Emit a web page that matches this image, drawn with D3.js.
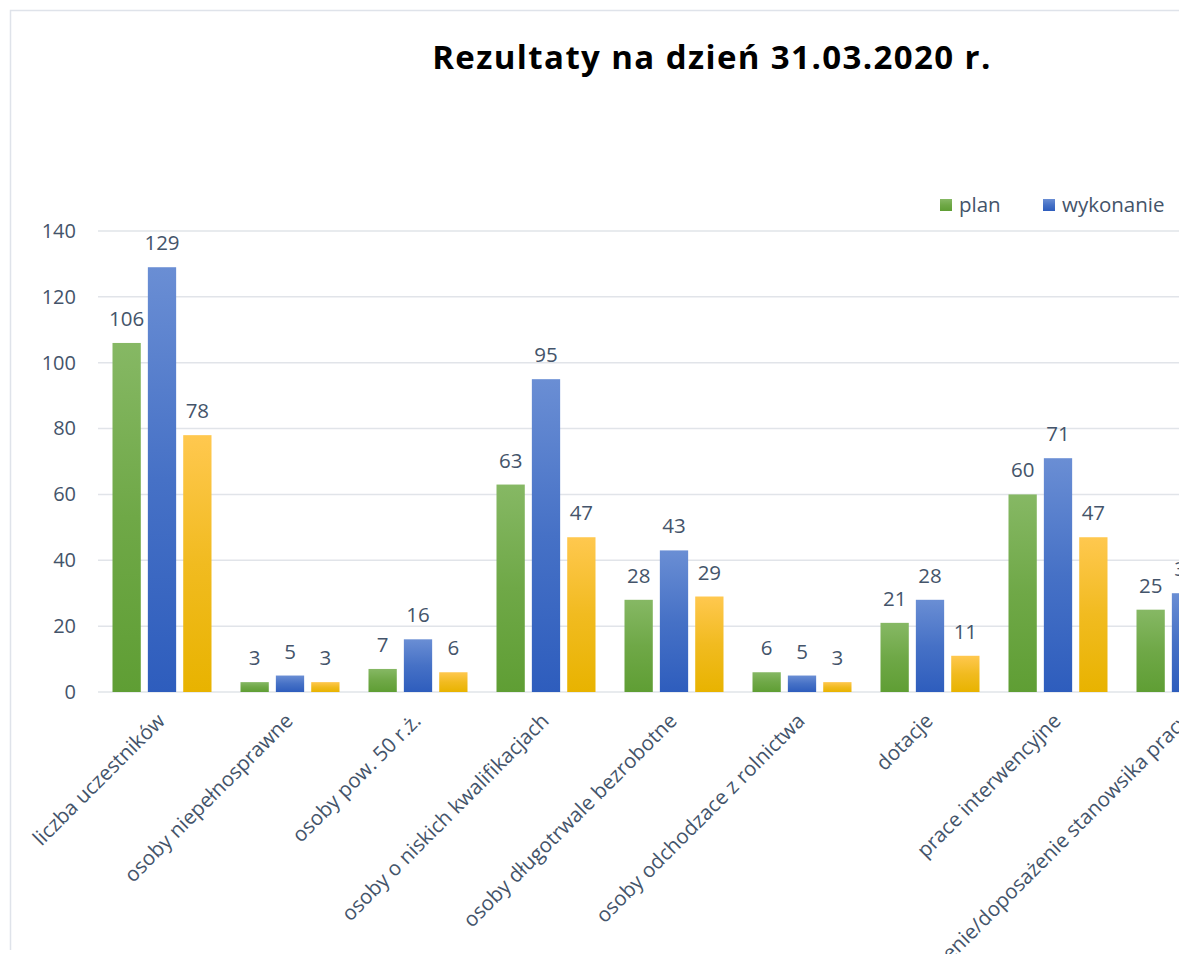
<!DOCTYPE html>
<html>
<head>
<meta charset="utf-8">
<script src="https://cdn.jsdelivr.net/npm/d3@7"></script>
<style>
  body { margin: 0; background: #fff; overflow: hidden; }
  text { font-family: 'Open Sans', sans-serif; }
</style>
</head>
<body>
<div id="chart"></div>
<script>
const categories = [
  'liczba uczestników',
  'osoby niepełnosprawne',
  'osoby pow. 50 r.ż.',
  'osoby o niskich kwalifikacjach',
  'osoby długotrwale bezrobotne',
  'osoby odchodzace z rolnictwa',
  'dotacje',
  'prace interwencyjne',
  'wyposażenie/doposażenie stanowsika pracy'
]
const seriesNames = ['plan', 'wykonanie', 'w tym kobiety']
const plan = [106, 3, 7, 63, 28, 6, 21, 60, 25]
const wykonanie = [129, 5, 16, 95, 43, 5, 28, 71, 30]
const kobiety = [78, 3, 6, 47, 29, 3, 11, 47, 18]
const yTicks = [0, 20, 40, 60, 80, 100, 120, 140]

const seriesValues = [plan, wykonanie, kobiety]
const data = categories.map((c, i) => ({
  category: c,
  values: seriesNames.map((s, j) => ({ key: s, value: seriesValues[j][i] }))
}))

const colors = {
  'plan': ['#86b864', '#5f9e34'],
  'wykonanie': ['#6a8ed4', '#2e5dbd'],
  'w tym kobiety': ['#ffc84f', '#e8b300']
}

const W = 1179
const H = 954
const plot = { left: 98, top: 231, bottom: 692 }

const svg = d3.select('#chart')
  .append('svg')
  .attr('width', W)
  .attr('height', H)

// gradients
const defs = svg.append('defs')
seriesNames.forEach((s, i) => {
  const grad = defs.append('linearGradient')
    .attr('id', 'grad' + i)
    .attr('x1', 0).attr('y1', 0).attr('x2', 0).attr('y2', 1)
  grad.append('stop').attr('offset', '0%').attr('stop-color', colors[s][0])
  grad.append('stop').attr('offset', '50%').attr('stop-color', d3.interpolateRgb(colors[s][0], colors[s][1])(0.6))
  grad.append('stop').attr('offset', '100%').attr('stop-color', colors[s][1])
})

// chart frame (runs past the right and bottom edge)
svg.append('path')
  .attr('d', `M10.5,950 V10.5 H${W}`)
  .attr('fill', 'none')
  .attr('stroke', '#dfe3ea')
  .attr('stroke-width', 1.5)

// title
svg.append('text')
  .attr('x', 712)
  .attr('y', 69)
  .attr('text-anchor', 'middle')
  .attr('font-size', '33px')
  .attr('font-weight', 'bold')
  .attr('letter-spacing', '1.4px')
  .attr('fill', '#000')
  .text('Rezultaty na dzień 31.03.2020 r.')

const x0 = d3.scaleBand()
  .domain(categories)
  .range([plot.left, plot.left + categories.length * 128])

const x1 = d3.scaleBand()
  .domain(seriesNames)
  .range([14.5, 113.5])
  .paddingInner(0.2)

const y = d3.scaleLinear()
  .domain([0, 140])
  .range([plot.bottom, plot.top])

// gridlines
svg.append('g')
  .selectAll('line')
  .data(yTicks)
  .join('line')
    .attr('x1', plot.left)
    .attr('x2', W)
    .attr('y1', d => y(d))
    .attr('y2', d => y(d))
    .attr('stroke', '#e1e4e9')
    .attr('stroke-width', 1.5)

// y axis labels
const yAxis = svg.append('g')
  .attr('transform', `translate(${plot.left}, 0)`)
  .call(d3.axisLeft(y).tickValues(yTicks).tickSize(0).tickPadding(22))
yAxis.select('.domain').remove()
yAxis.selectAll('text')
  .attr('font-size', '20px')
  .attr('font-family', "'Open Sans', sans-serif")
  .attr('fill', '#44546a')

// bars
const groups = svg.append('g')
  .selectAll('g')
  .data(data)
  .join('g')
    .attr('transform', d => `translate(${x0(d.category)}, 0)`)

groups.selectAll('rect')
  .data(d => d.values)
  .join('rect')
    .attr('x', d => x1(d.key))
    .attr('y', d => y(d.value))
    .attr('width', x1.bandwidth())
    .attr('height', d => y(0) - y(d.value))
    .attr('fill', (d, i) => `url(#grad${i})`)

groups.selectAll('text.val')
  .data(d => d.values)
  .join('text')
    .attr('class', 'val')
    .attr('x', d => x1(d.key) + x1.bandwidth() / 2)
    .attr('y', d => y(d.value) - 17)
    .attr('text-anchor', 'middle')
    .attr('font-size', '20.5px')
    .attr('fill', '#44546a')
    .text(d => d.value)

// x axis category labels
svg.append('g')
  .selectAll('text')
  .data(categories)
  .join('text')
    .attr('transform', d => `translate(${x0(d) + x0.bandwidth() / 2 - 6}, 712) rotate(-45)`)
    .attr('text-anchor', 'end')
    .attr('dy', '0.7em')
    .attr('font-size', '20.5px')
    .attr('fill', '#44546a')
    .text(d => d)

// legend
const legendX = [940, 1043, 1195]
const legend = svg.append('g')
  .selectAll('g')
  .data(seriesNames)
  .join('g')
    .attr('transform', (d, i) => `translate(${legendX[i]}, 199)`)
legend.append('rect')
  .attr('width', 12)
  .attr('height', 12)
  .attr('fill', (d, i) => `url(#grad${i})`)
legend.append('text')
  .attr('x', 19)
  .attr('y', 13)
  .attr('font-size', '20.5px')
  .attr('fill', '#44546a')
  .text(d => d)
</script>
</body>
</html>
